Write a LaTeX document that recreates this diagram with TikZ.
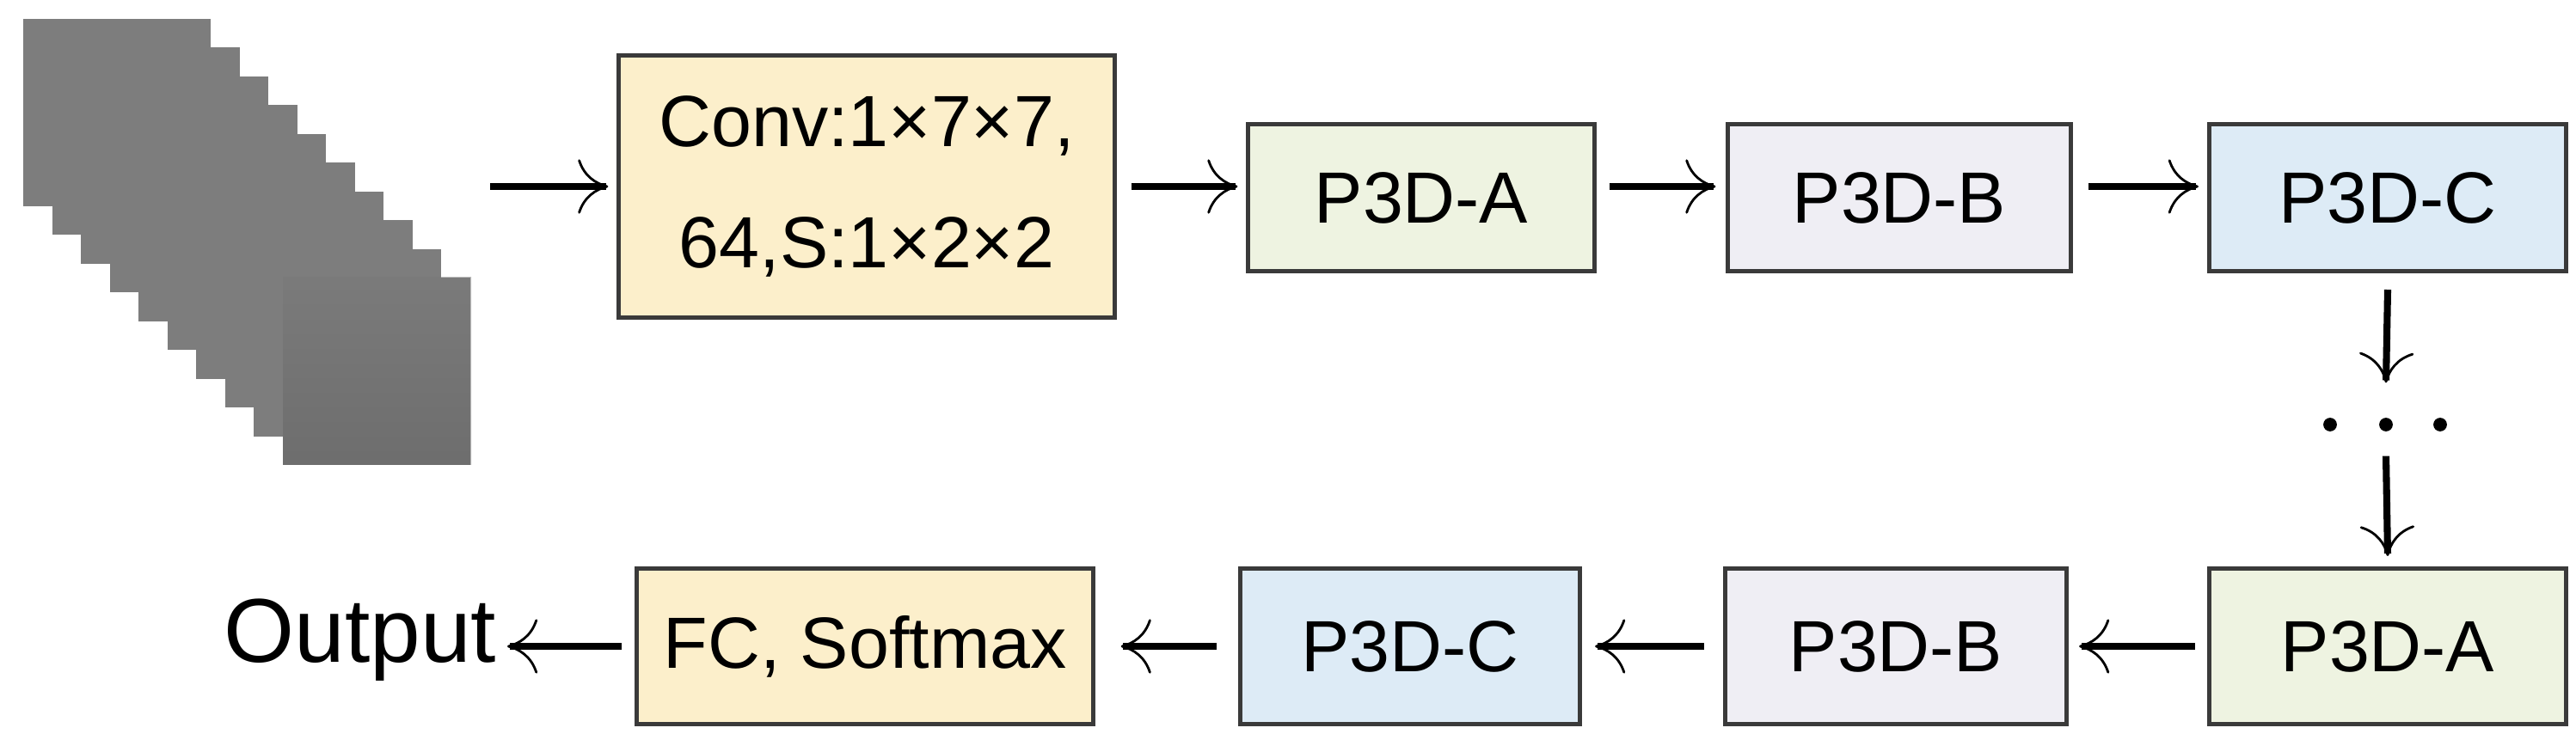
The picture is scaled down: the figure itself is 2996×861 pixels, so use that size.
\documentclass[tikz,border=0pt]{standalone}
\usepackage{fontspec}
\setmainfont{Liberation Sans}
\usetikzlibrary{arrows.meta}
\definecolor{cyel}{HTML}{FCEFCB}
\definecolor{cgrn}{HTML}{EEF3E1}
\definecolor{cpur}{HTML}{EFEEF4}
\definecolor{cblu}{HTML}{DDEBF6}
\definecolor{cbord}{HTML}{3A3A3A}
\begin{document}
\begin{tikzpicture}[x=0.01cm,y=-0.01cm,
  box/.style={draw=cbord,line width=1.4pt,inner sep=0pt,font=\fontsize{24}{30}\selectfont},
  arr/.style={line width=2.3pt,-{To[length=10pt,width=18pt,line width=0.8pt]}},
  dot/.style={circle,fill=black,inner sep=0pt,minimum size=4.5pt}]
\useasboundingbox (0,0) rectangle (2996,861);
% image stack
\foreach \i in {0,...,9}{
  \fill[gray!98!black] ({27+33.5*\i},{22+33.5*\i}) rectangle ++(218,218);
}
\shade[top color=gray!95!black,bottom color=gray!75!black,opacity=0.5] (329,323) rectangle (548,541);
% top row
\node[box,fill=cyel,text width=5.4cm,align=center,minimum width=5.76cm,minimum height=3.04cm,font=\fontsize{24}{40}\selectfont] (conv) at (1008,217) {Conv:1×7×7,\\64,S:1×2×2};
\node[box,fill=cgrn,minimum width=4.02cm,minimum height=1.71cm] (a1) at (1653,230) {P3D-A};
\node[box,fill=cpur,minimum width=3.98cm,minimum height=1.71cm] (b1) at (2209,230) {P3D-B};
\node[box,fill=cblu,minimum width=4.15cm,minimum height=1.71cm] (c1) at (2777,230) {P3D-C};
% bottom row
\node[box,fill=cgrn,minimum width=4.15cm,minimum height=1.81cm] (a2) at (2777,752) {P3D-A};
\node[box,fill=cpur,minimum width=3.97cm,minimum height=1.81cm] (b2) at (2205,752) {P3D-B};
\node[box,fill=cblu,minimum width=3.95cm,minimum height=1.81cm] (c2) at (1640,752) {P3D-C};
\node[box,fill=cyel,minimum width=5.30cm,minimum height=1.81cm] (fc) at (1006,752) {FC, Softmax};
\node[inner sep=0pt,font=\fontsize{30}{36}\selectfont,anchor=east] (out) at (578,745) {Output};
% arrows
\coordinate (s) at (570,217);
\draw[arr] (s) -- ([xshift=-0.1cm]conv.west|-s);
\draw[arr] ([xshift=0.17cm]conv.east|-s) -- ([xshift=-0.1cm]a1.west|-s);
\draw[arr] ([xshift=0.15cm]a1.east|-s) -- ([xshift=-0.12cm]b1.west|-s);
\draw[arr] ([xshift=0.18cm]b1.east|-s) -- ([xshift=-0.1cm]c1.west|-s);
\node[dot] (dt1) at (2710,494) {};
\node[dot] (dt2) at (2775,494) {};
\node[dot] (dt3) at (2838,494) {};
\draw[arr] ([yshift=-0.19cm]c1.south) -- ([yshift=0.4cm]dt2.north);
\draw[arr] ([yshift=-0.28cm]dt2.south) -- ([yshift=0.12cm]a2.north);
\draw[arr] ([xshift=-0.14cm]a2.west) -- ([xshift=0.12cm]b2.east);
\draw[arr] ([xshift=-0.22cm]b2.west) -- ([xshift=0.15cm]c2.east);
\draw[arr] ([xshift=-0.25cm]c2.west) -- ([xshift=0.3cm]fc.east);
\draw[arr] ([xshift=-0.15cm]fc.west) -- ([xshift=0.12cm]out.east|-fc.west);
\end{tikzpicture}
\end{document}
